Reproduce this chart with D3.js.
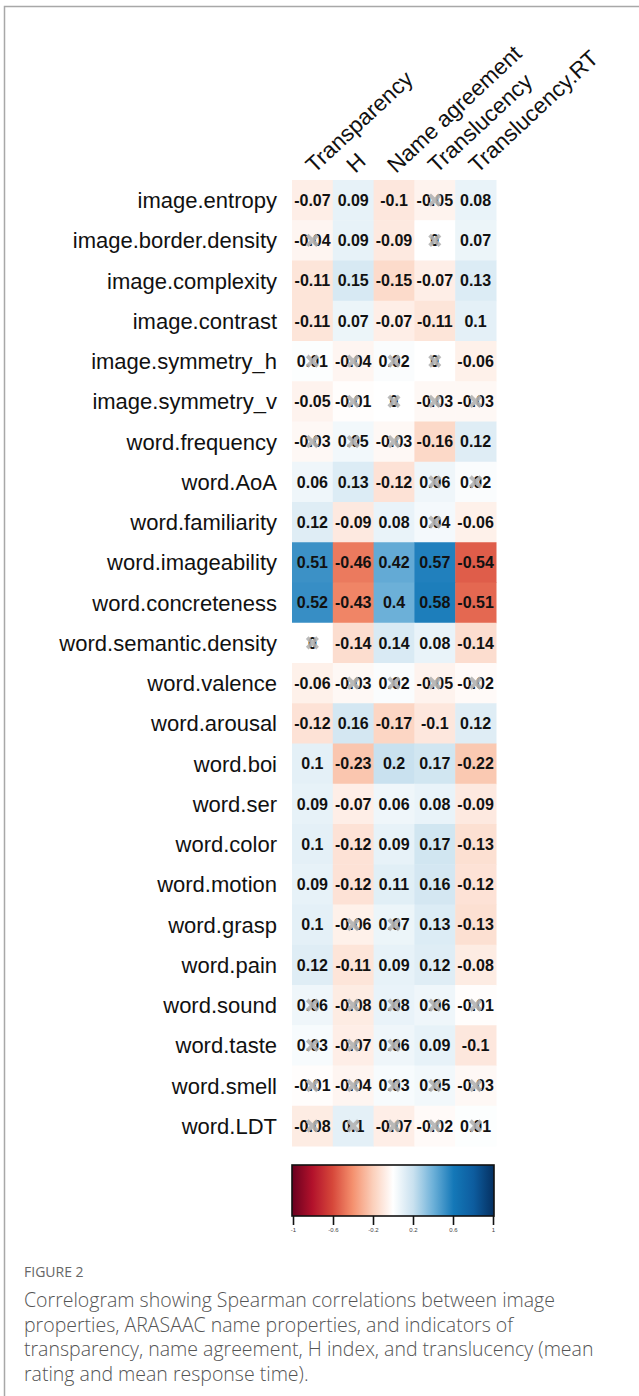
<!DOCTYPE html>
<html>
<head>
<meta charset="utf-8">
<script src="https://cdn.jsdelivr.net/npm/d3@7"></script>
<style>
  html, body { margin: 0; padding: 0; background: #fff; }
  svg { display: block; }
</style>
</head>
<body>
<svg id="chart" width="639" height="1396"></svg>
<script>
// Variables shown as rows (image + word properties) and columns (naming indicators)
const rowLabels = [
  "image.entropy", "image.border.density", "image.complexity", "image.contrast",
  "image.symmetry_h", "image.symmetry_v", "word.frequency", "word.AoA",
  "word.familiarity", "word.imageability", "word.concreteness", "word.semantic.density",
  "word.valence", "word.arousal", "word.boi", "word.ser", "word.color", "word.motion",
  "word.grasp", "word.pain", "word.sound", "word.taste", "word.smell", "word.LDT"
];
const colLabels = ["Transparency", "H", "Name agreement", "Translucency", "Translucency.RT"];

// Spearman correlations, one array per row (columns in colLabels order)
const corrValues = [
  [-0.07,  0.09, -0.10, -0.05,  0.08],
  [-0.04,  0.09, -0.09,  0.00,  0.07],
  [-0.11,  0.15, -0.15, -0.07,  0.13],
  [-0.11,  0.07, -0.07, -0.11,  0.10],
  [ 0.01, -0.04,  0.02,  0.00, -0.06],
  [-0.05, -0.01,  0.00, -0.03, -0.03],
  [-0.03,  0.05, -0.03, -0.16,  0.12],
  [ 0.06,  0.13, -0.12,  0.06,  0.02],
  [ 0.12, -0.09,  0.08,  0.04, -0.06],
  [ 0.51, -0.46,  0.42,  0.57, -0.54],
  [ 0.52, -0.43,  0.40,  0.58, -0.51],
  [ 0.00, -0.14,  0.14,  0.08, -0.14],
  [-0.06, -0.03,  0.02, -0.05, -0.02],
  [-0.12,  0.16, -0.17, -0.10,  0.12],
  [ 0.10, -0.23,  0.20,  0.17, -0.22],
  [ 0.09, -0.07,  0.06,  0.08, -0.09],
  [ 0.10, -0.12,  0.09,  0.17, -0.13],
  [ 0.09, -0.12,  0.11,  0.16, -0.12],
  [ 0.10, -0.06,  0.07,  0.13, -0.13],
  [ 0.12, -0.11,  0.09,  0.12, -0.08],
  [ 0.06, -0.08,  0.08,  0.06, -0.01],
  [ 0.03, -0.07,  0.06,  0.09, -0.10],
  [-0.01, -0.04,  0.03,  0.05, -0.03],
  [-0.08,  0.10, -0.07, -0.02,  0.01]
];

// 1 = not significant (crossed out)
const notSignificant = [
  [0,0,0,1,0],
  [1,0,0,1,0],
  [0,0,0,0,0],
  [0,0,0,0,0],
  [1,1,1,1,0],
  [0,1,1,1,1],
  [1,1,1,0,0],
  [0,0,0,1,1],
  [0,0,0,1,0],
  [0,0,0,0,0],
  [0,0,0,0,0],
  [1,0,0,0,0],
  [0,1,1,1,1],
  [0,0,0,0,0],
  [0,0,0,0,0],
  [0,0,0,0,0],
  [0,0,0,0,0],
  [0,0,0,0,0],
  [0,1,1,0,0],
  [0,0,0,0,0],
  [1,1,1,1,1],
  [1,1,1,0,0],
  [1,1,1,1,1],
  [1,1,1,1,1]
];

const legendTicks = [-1, -0.6, -0.2, 0.2, 0.6, 1];

const captionTitle = "FIGURE 2";
const captionLines = [
  "Correlogram showing Spearman correlations between image",
  "properties, ARASAAC name properties, and indicators of",
  "transparency, name agreement, H index, and translucency (mean",
  "rating and mean response time)."
];

const svg = d3.select("#chart");

// Page frame
svg.append("path")
  .attr("d", "M4.5,1396 V6.5 H639")
  .attr("fill", "none")
  .attr("stroke", "#a8a8a8")
  .attr("stroke-width", 1.5);

// Diverging red-white-blue palette
const color = d3.scaleLinear()
  .domain([-1, -0.8, -0.6, -0.4, -0.2, 0, 0.2, 0.4, 0.6, 0.8, 1])
  .range(["#67001f", "#b2112b", "#d6473a", "#f4906e", "#fbcfba", "#ffffff",
          "#c9e1ef", "#6cb0d8", "#1478b8", "#0d5c9e", "#053061"])
  .interpolate(d3.interpolateRgb);

const x = d3.scaleBand().domain(colLabels).range([292, 496]);
const y = d3.scaleBand().domain(rowLabels).range([180, 1146]);

const cells = [];
rowLabels.forEach((r, i) => colLabels.forEach((c, j) => {
  cells.push({ row: r, col: c, v: corrValues[i][j], ns: notSignificant[i][j] === 1 });
}));

const fmt = v => String(+v.toFixed(2));

const g = svg.append("g");

g.selectAll("rect.cell").data(cells).join("rect")
  .attr("class", "cell")
  .attr("x", d => x(d.col))
  .attr("y", d => y(d.row))
  .attr("width", x.bandwidth() + 0.5)
  .attr("height", y.bandwidth() + 0.5)
  .attr("fill", d => color(d.v));

g.selectAll("text.val").data(cells).join("text")
  .attr("class", "val")
  .attr("x", d => x(d.col) + x.bandwidth() / 2)
  .attr("y", d => y(d.row) + y.bandwidth() / 2)
  .attr("dy", "0.36em")
  .attr("text-anchor", "middle")
  .attr("font-family", "Liberation Sans, Arial, sans-serif")
  .attr("font-weight", "bold")
  .attr("font-size", 16)
  .attr("fill", "#111")
  .text(d => fmt(d.v));

// Cross marks over non-significant coefficients
const cs = 5.2;
g.selectAll("path.cross").data(cells.filter(d => d.ns)).join("path")
  .attr("class", "cross")
  .attr("d", d => {
    const cx = x(d.col) + x.bandwidth() / 2;
    const cy = y(d.row) + y.bandwidth() / 2;
    return `M${cx - cs},${cy - cs}L${cx + cs},${cy + cs}M${cx - cs},${cy + cs}L${cx + cs},${cy - cs}`;
  })
  .attr("stroke", "#b2b2b2")
  .attr("stroke-width", 3.8)
  .attr("stroke-opacity", 0.9)
  .attr("fill", "none");

// Row labels
g.selectAll("text.rowlab").data(rowLabels).join("text")
  .attr("class", "rowlab")
  .attr("x", 277)
  .attr("y", d => y(d) + y.bandwidth() / 2)
  .attr("dy", "0.36em")
  .attr("text-anchor", "end")
  .attr("font-family", "Liberation Sans, Arial, sans-serif")
  .attr("font-size", 22)
  .attr("fill", "#111")
  .text(d => d);

// Rotated column labels
g.selectAll("text.collab").data(colLabels).join("text")
  .attr("class", "collab")
  .attr("transform", d => `translate(${x(d) + x.bandwidth() / 2 + 2},${174}) rotate(-43)`)
  .attr("font-family", "Liberation Sans, Arial, sans-serif")
  .attr("font-size", 22.5)
  .attr("fill", "#111")
  .text(d => d);

// Colour legend
const lx = d3.scaleLinear().domain([-1, 1]).range([293, 493]);
const defs = svg.append("defs");
const grad = defs.append("linearGradient").attr("id", "legendGrad")
  .attr("x1", "0%").attr("x2", "100%").attr("y1", "0%").attr("y2", "0%");
grad.selectAll("stop").data(d3.range(-1, 1.0001, 0.05)).join("stop")
  .attr("offset", d => ((d + 1) / 2 * 100) + "%")
  .attr("stop-color", d => color(d));

svg.append("rect")
  .attr("x", lx(-1) - 1).attr("y", 1165)
  .attr("width", lx(1) - lx(-1) + 2).attr("height", 51)
  .attr("fill", "url(#legendGrad)")
  .attr("stroke", "#111")
  .attr("stroke-width", 1.6);

const axis = d3.axisBottom(lx)
  .tickValues(legendTicks)
  .tickSize(9)
  .tickSizeOuter(0)
  .tickFormat(d => String(d));

const ag = svg.append("g")
  .attr("transform", "translate(0,1216)")
  .call(axis);
ag.select(".domain").remove();
ag.selectAll(".tick line").attr("stroke", "#111").attr("stroke-width", 1.6);
ag.selectAll(".tick text")
  .attr("y", 12)
  .attr("font-family", "Liberation Sans, Arial, sans-serif")
  .attr("font-size", 6)
  .attr("fill", "#444");

// Caption
svg.append("text")
  .attr("x", 24).attr("y", 1277)
  .attr("font-family", "Open Sans, sans-serif")
  .attr("font-size", 14)
  .attr("fill", "#666")
  .text(captionTitle);

svg.append("g").selectAll("text").data(captionLines).join("text")
  .attr("x", 24)
  .attr("y", (d, i) => 1307 + i * 24.5)
  .attr("font-family", "Open Sans, sans-serif")
  .attr("font-weight", 300)
  .attr("font-size", 19.5)
  .attr("fill", "#555")
  .text(d => d);
</script>
</body>
</html>
